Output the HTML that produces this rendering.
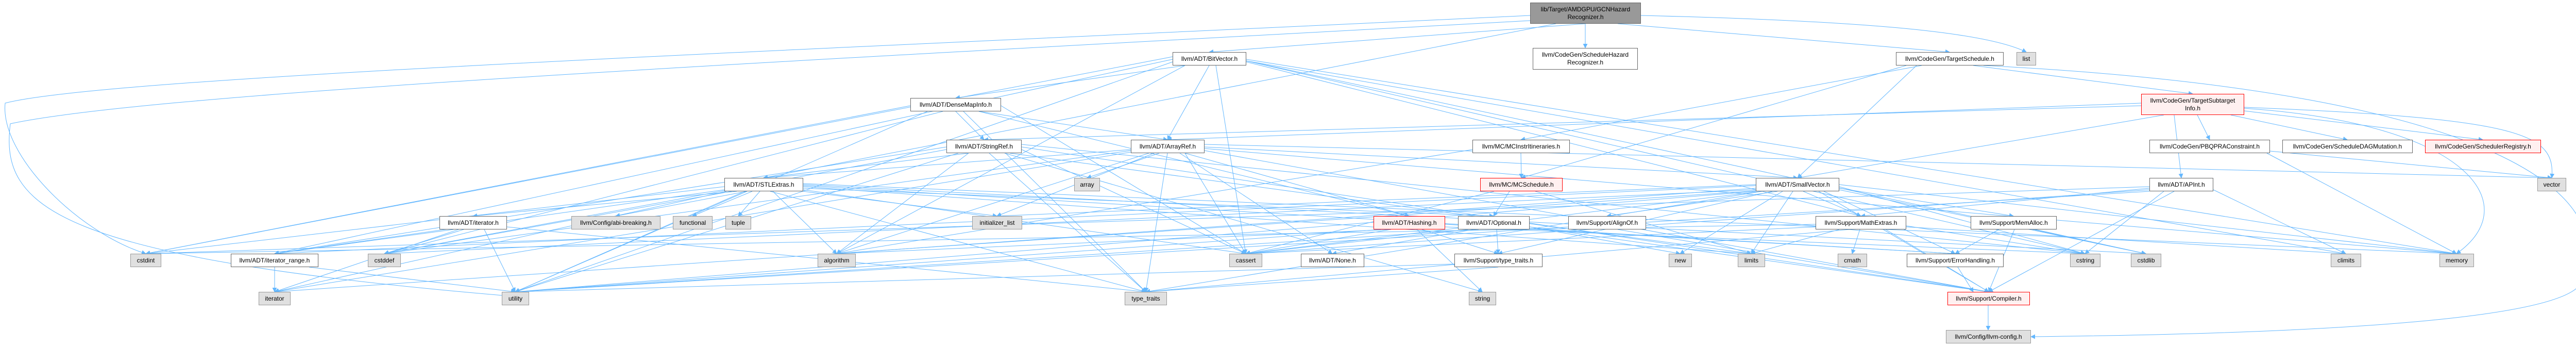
<!DOCTYPE html>
<html><head><meta charset="utf-8"><style>
html,body{margin:0;padding:0;background:#fff;}
#c{position:relative;width:5076px;height:671px;overflow:hidden;font-family:"Liberation Sans",Arial,sans-serif;}
.n{position:absolute;box-sizing:border-box;border:1px solid #666;background:#fff;font-size:12px;color:#000;display:flex;align-items:center;justify-content:center;text-align:center;line-height:15px;white-space:nowrap;z-index:2;}
.g{background:#e0e0e0;border-color:#999;}
.r{background:#fff0f0;border-color:#f00;}
.t{background:#999;border-color:#666;}
svg{position:absolute;left:0;top:0;z-index:1;}
</style></head><body><div id="c">
<svg width="5076" height="671"><defs><marker id="a" viewBox="0 0 10 10" refX="9" refY="5" markerWidth="9" markerHeight="9" markerUnits="userSpaceOnUse" orient="auto"><path d="M0,0 L10,5 L0,10 z" fill="#63b7ff" stroke="none"/></marker></defs>
<g fill="none" stroke="#63b7ff" stroke-width="1" marker-end="url(#a)">
<path d="M3077 46L2347 101"/><path d="M3020 46L1482 345"/><path d="M3077 46L3077 93"/><path d="M3140 46L3784 101"/><path d="M3185 30C3600 40 3850 60 3933 101"/><path d="M2970 30C1500 100 200 150 10 200C0 300 150 450 283 492"/><path d="M2970 40C1500 120 300 180 20 240C0 400 100 500 1000 575"/>
<path d="M2347 127L2266 271"/><path d="M2300 127L1855 190"/><path d="M2276 115L533 492"/><path d="M2419 120L3612 419"/><path d="M2300 127L1624 492"/><path d="M2360 127L2418 492"/><path d="M2419 118L4553 492"/><path d="M2276 110L283 492"/><path d="M2419 118L4165 492"/><path d="M2419 118L4047 492"/><path d="M2276 120L1000 566"/><path d="M2419 115L4768 492"/>
<path d="M1900 216L2735 419"/><path d="M1855 216L1910 271"/><path d="M1900 216L2266 271"/><path d="M1943 205L2418 492"/><path d="M1830 216L746 492"/><path d="M1767 205L283 492"/><path d="M1870 216L2224 566"/><path d="M1800 216L1000 566"/>
<path d="M1880 297L1482 345"/><path d="M1837 285L533 492"/><path d="M1983 285L3860 566"/><path d="M1880 297L1624 492"/><path d="M1983 290L2418 492"/><path d="M1837 290L746 492"/><path d="M1983 280L4047 492"/><path d="M1960 297L3399 492"/><path d="M1950 297L2877 566"/><path d="M1920 297L2224 566"/><path d="M1860 297L1000 566"/>
<path d="M2300 297L2735 419"/><path d="M2290 297L2586 492"/><path d="M2338 285L3489 345"/><path d="M2195 290L1482 345"/><path d="M2338 292L3860 566"/><path d="M2230 297L1624 492"/><path d="M2250 297L2110 345"/><path d="M2300 297L2418 492"/><path d="M2195 292L746 492"/><path d="M2240 297L1935 419"/><path d="M2195 295L533 566"/><path d="M2338 288L4768 492"/><path d="M2266 297L2224 566"/><path d="M2338 280L4953 345"/>
<path d="M1559 365L2899 419"/><path d="M1430 371L918 419"/><path d="M1406 368L533 492"/><path d="M1450 371L1195 419"/><path d="M1559 360L3795 492"/><path d="M1500 371L1624 492"/><path d="M1559 368L2418 492"/><path d="M1420 371L746 492"/><path d="M1406 362L283 492"/><path d="M1559 358L4165 492"/><path d="M1460 371L1344 419"/><path d="M1559 371L1935 419"/><path d="M1410 371L533 566"/><path d="M1559 362L3399 492"/><path d="M1559 356L4768 492"/><path d="M1475 371L1433 419"/><path d="M1495 371L2224 566"/><path d="M1450 371L1000 566"/>
<path d="M880 445L533 492"/><path d="M900 445L746 492"/><path d="M890 445L533 566"/><path d="M984 440L2224 566"/><path d="M940 445L1000 566"/>
<path d="M533 518L533 566"/><path d="M600 518L1000 566"/>
<path d="M2805 435L3795 492"/><path d="M2760 445L2908 492"/><path d="M2700 445L1624 492"/><path d="M2700 445L2418 492"/><path d="M2805 440L4047 492"/><path d="M2750 445L2877 566"/><path d="M2680 445L1000 566"/>
<path d="M2860 445L2586 492"/><path d="M2905 445L2908 492"/><path d="M2969 440L3860 566"/><path d="M2850 445L2418 492"/><path d="M2969 440L3261 492"/><path d="M2870 445L1000 566"/>
<path d="M3140 445L3860 566"/>
<path d="M3660 445L3860 566"/><path d="M3524 440L2418 492"/><path d="M3700 440L4553 492"/><path d="M3610 445L3595 492"/><path d="M3524 435L283 492"/><path d="M3700 438L4047 492"/><path d="M3570 445L3399 492"/><path d="M3590 445L2224 566"/>
<path d="M3408 360L533 492"/><path d="M3530 371L3860 566"/><path d="M3570 365L3908 419"/><path d="M3440 371L2908 492"/><path d="M3540 371L3795 492"/><path d="M3450 371L3119 419"/><path d="M3500 371L3612 419"/><path d="M3408 365L1624 492"/><path d="M3420 371L2418 492"/><path d="M3408 368L746 492"/><path d="M3570 368L4165 492"/><path d="M3570 362L4047 492"/><path d="M3408 358L1935 419"/><path d="M3408 370L533 566"/><path d="M3480 371L3399 492"/><path d="M3570 358L4768 492"/><path d="M3460 371L3261 492"/><path d="M3420 371L2224 566"/><path d="M3408 371L1000 566"/>
<path d="M3910 445L3860 566"/><path d="M3880 445L3795 492"/><path d="M3950 445L4165 492"/>
<path d="M3800 518L3830 566"/><path d="M3859 592L3859 640"/>
<path d="M2908 518L2224 566"/><path d="M2823 512L1000 566"/>
<path d="M2952 297L2953 345"/><path d="M2858 290L1624 492"/>
<path d="M2930 371L2899 419"/><path d="M2900 371L2418 492"/><path d="M2980 371L3399 492"/>
<path d="M3720 127L3489 345"/><path d="M3730 127L2952 271"/><path d="M3700 127L2953 345"/><path d="M3830 127L4256 182"/><path d="M3850 127C4900 180 5100 400 5000 560C4900 640 4200 650 3942 653"/>
<path d="M4156 200L2266 271"/><path d="M4220 223L4234 345"/><path d="M4200 223L3489 345"/><path d="M4156 205L1910 271"/><path d="M4265 223L4289 271"/><path d="M4330 223L4556 271"/><path d="M4356 215L4819 271"/><path d="M4356 210C4800 240 4900 400 4768 492"/><path d="M4356 208C4900 230 4960 260 4953 345"/>
<path d="M4400 297L4768 492"/><path d="M4406 293L4953 345"/>
<path d="M4220 371L3860 566"/><path d="M4172 365L3612 419"/><path d="M4172 368L2418 492"/><path d="M4296 368L4553 492"/><path d="M4200 371L4047 492"/><path d="M4172 371L1000 566"/><path d="M4172 362L283 492"/>
</g></svg>
<div class="n t" style="left:2970px;top:5px;width:215px;height:41px">lib/Target/AMDGPU/GCNHazard<br>Recognizer.h</div>
<div class="n" style="left:2975px;top:93px;width:204px;height:42px">llvm/CodeGen/ScheduleHazard<br>Recognizer.h</div>
<div class="n" style="left:2276px;top:101px;width:143px;height:26px">llvm/ADT/BitVector.h</div>
<div class="n" style="left:3680px;top:101px;width:209px;height:26px">llvm/CodeGen/TargetSchedule.h</div>
<div class="n g" style="left:3914px;top:101px;width:38px;height:26px">list</div>
<div class="n r" style="left:4156px;top:182px;width:200px;height:41px">llvm/CodeGen/TargetSubtarget<br>Info.h</div>
<div class="n" style="left:1767px;top:190px;width:176px;height:26px">llvm/ADT/DenseMapInfo.h</div>
<div class="n" style="left:1837px;top:271px;width:146px;height:26px">llvm/ADT/StringRef.h</div>
<div class="n" style="left:2195px;top:271px;width:143px;height:26px">llvm/ADT/ArrayRef.h</div>
<div class="n" style="left:2858px;top:271px;width:189px;height:26px">llvm/MC/MCInstrItineraries.h</div>
<div class="n" style="left:4172px;top:271px;width:234px;height:26px">llvm/CodeGen/PBQPRAConstraint.h</div>
<div class="n" style="left:4430px;top:271px;width:253px;height:26px">llvm/CodeGen/ScheduleDAGMutation.h</div>
<div class="n r" style="left:4707px;top:271px;width:225px;height:26px">llvm/CodeGen/SchedulerRegistry.h</div>
<div class="n" style="left:1406px;top:345px;width:153px;height:26px">llvm/ADT/STLExtras.h</div>
<div class="n g" style="left:2085px;top:345px;width:50px;height:26px">array</div>
<div class="n r" style="left:2873px;top:345px;width:160px;height:26px">llvm/MC/MCSchedule.h</div>
<div class="n" style="left:3408px;top:345px;width:162px;height:26px">llvm/ADT/SmallVector.h</div>
<div class="n" style="left:4172px;top:345px;width:124px;height:26px">llvm/ADT/APInt.h</div>
<div class="n g" style="left:4925px;top:345px;width:56px;height:26px">vector</div>
<div class="n" style="left:853px;top:419px;width:131px;height:26px">llvm/ADT/iterator.h</div>
<div class="n g" style="left:1109px;top:419px;width:173px;height:26px">llvm/Config/abi-breaking.h</div>
<div class="n g" style="left:1306px;top:419px;width:77px;height:26px">functional</div>
<div class="n g" style="left:1408px;top:419px;width:50px;height:26px">tuple</div>
<div class="n g" style="left:1887px;top:419px;width:97px;height:26px">initializer_list</div>
<div class="n r" style="left:2666px;top:419px;width:139px;height:26px">llvm/ADT/Hashing.h</div>
<div class="n" style="left:2830px;top:419px;width:139px;height:26px">llvm/ADT/Optional.h</div>
<div class="n" style="left:3044px;top:419px;width:151px;height:26px">llvm/Support/AlignOf.h</div>
<div class="n" style="left:3524px;top:419px;width:176px;height:26px">llvm/Support/MathExtras.h</div>
<div class="n" style="left:3825px;top:419px;width:167px;height:26px">llvm/Support/MemAlloc.h</div>
<div class="n g" style="left:253px;top:492px;width:60px;height:26px">cstdint</div>
<div class="n" style="left:448px;top:492px;width:170px;height:26px">llvm/ADT/iterator_range.h</div>
<div class="n g" style="left:714px;top:492px;width:64px;height:26px">cstddef</div>
<div class="n g" style="left:1587px;top:492px;width:74px;height:26px">algorithm</div>
<div class="n g" style="left:2386px;top:492px;width:64px;height:26px">cassert</div>
<div class="n" style="left:2525px;top:492px;width:123px;height:26px">llvm/ADT/None.h</div>
<div class="n" style="left:2823px;top:492px;width:171px;height:26px">llvm/Support/type_traits.h</div>
<div class="n g" style="left:3239px;top:492px;width:45px;height:26px">new</div>
<div class="n g" style="left:3373px;top:492px;width:53px;height:26px">limits</div>
<div class="n g" style="left:3567px;top:492px;width:57px;height:26px">cmath</div>
<div class="n" style="left:3701px;top:492px;width:188px;height:26px">llvm/Support/ErrorHandling.h</div>
<div class="n g" style="left:4018px;top:492px;width:59px;height:26px">cstring</div>
<div class="n g" style="left:4136px;top:492px;width:59px;height:26px">cstdlib</div>
<div class="n g" style="left:4524px;top:492px;width:59px;height:26px">climits</div>
<div class="n g" style="left:4735px;top:492px;width:67px;height:26px">memory</div>
<div class="n g" style="left:502px;top:566px;width:62px;height:26px">iterator</div>
<div class="n g" style="left:974px;top:566px;width:53px;height:26px">utility</div>
<div class="n g" style="left:2851px;top:566px;width:53px;height:26px">string</div>
<div class="n g" style="left:2183px;top:566px;width:82px;height:26px">type_traits</div>
<div class="n r" style="left:3780px;top:566px;width:160px;height:26px">llvm/Support/Compiler.h</div>
<div class="n g" style="left:3777px;top:640px;width:165px;height:26px">llvm/Config/llvm-config.h</div>
</div>
</body></html>
